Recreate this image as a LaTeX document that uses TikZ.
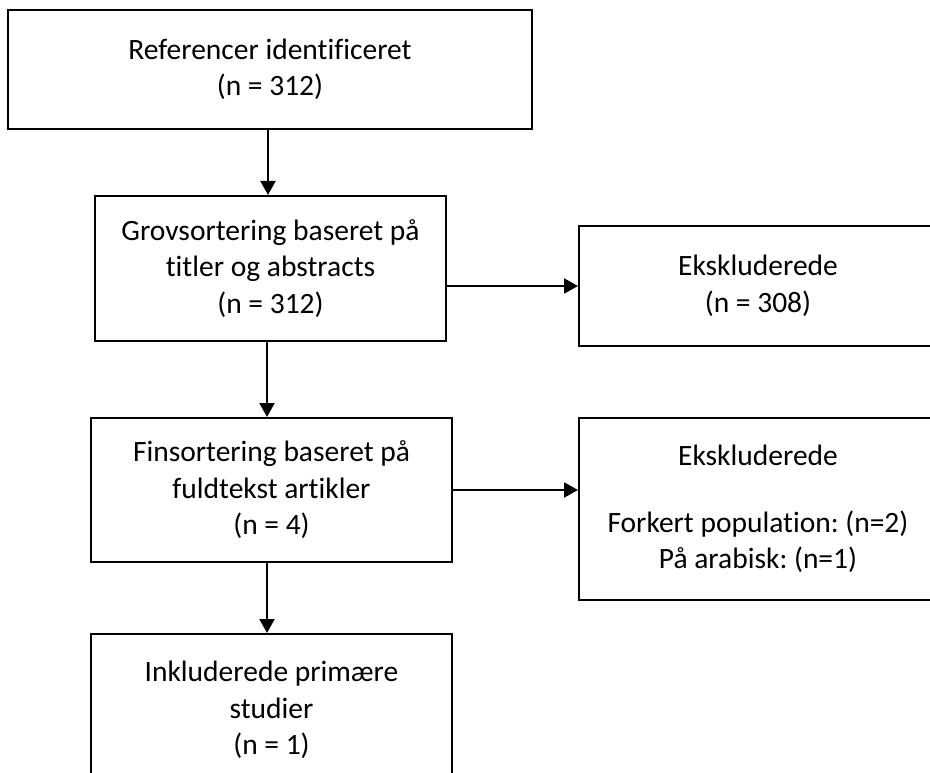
\documentclass[tikz,border=0pt]{standalone}
\usepackage{fontspec}
\setmainfont{Carlito}[Ligatures=NoCommon]
\frenchspacing
\usetikzlibrary{arrows.meta}
\begin{document}
\begin{tikzpicture}[x=1pt,y=-1pt,
  box/.style={draw=black,line width=2pt,align=center,inner sep=0pt,
    font=\fontsize{29.5}{36.5}\selectfont},
  arr/.style={draw=black,line width=2pt,-{Triangle[width=15pt,length=14pt]}}]
\clip (0,0) rectangle (930,773);
\node[box,minimum width=524pt,minimum height=119pt] (ref) at (270,69.5)
  {Referencer identificeret\\(n = 312)};
\node[box,minimum width=351pt,minimum height=145pt] (grov) at (270.5,268.5)
  {Grovsortering baseret på\\titler og abstracts\\(n = 312)};
\node[box,minimum width=358pt,minimum height=120pt] (eks1) at (758,286)
  {Ekskluderede\\(n = 308)};
\node[box,minimum width=361pt,minimum height=144pt] (fin) at (271.5,490)
  {Finsortering baseret på\\fuldtekst artikler\\(n = 4)};
\node[box,minimum width=358pt,minimum height=182pt] (eks2) at (758,509)
  {Ekskluderede\\[30.5pt]Forkert population: (n=2)\\På arabisk: (n=1)};
\node[box,minimum width=361pt,minimum height=152pt] (inkl) at (271.5,710)
  {Inkluderede primære\\studier\\(n = 1)};
\draw[arr] (ref.south -| 268,0) -- (268,0 |- grov.north);
\draw[arr] (grov.east |- eks1.west) -- (eks1.west);
\draw[arr] (267,0 |- grov.south) -- (267,0 |- fin.north);
\draw[arr] (fin.east) -- (fin.east -| eks2.west);
\draw[arr] (267,0 |- fin.south) -- (267,0 |- inkl.north);
\end{tikzpicture}
\end{document}
